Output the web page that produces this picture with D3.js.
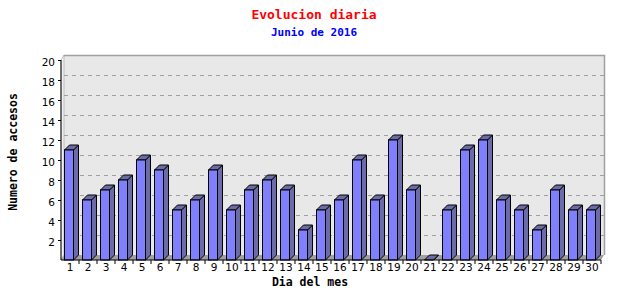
<!DOCTYPE html>
<html lang="es">
<head>
<meta charset="UTF-8">
<title>Evolucion diaria</title>
<script src="https://d3js.org/d3.v7.min.js"></script>
<style>
    body { margin: 0; padding: 0; background: #fff; }
    svg { display: block; }
    .title { font-family: 'DejaVu Sans Mono', monospace; font-weight: bold; }
    .axis text { font-family: 'DejaVu Sans', sans-serif; font-size: 10.5px; fill: #000; }
    .axis path { display: none; }
    .axis line { stroke: #000; }
</style>
</head>
<body>
<svg id="chart" width="640" height="300"></svg>
<script>
    // data
    const days = d3.range(1, 31).map(String);
    const accesses = [11, 6, 7, 8, 10, 9, 5, 6, 9, 5, 7, 8, 7, 3, 5, 6, 10, 6, 12, 7, 0, 5, 11, 12, 6, 5, 3, 7, 5, 5];
    const yTicks = [2, 4, 6, 8, 10, 12, 14, 16, 18, 20];

    const plotLeft = 61, plotRight = 601, plotBottom = 260, plotTop = 60;
    const dx = 3, dy = 5;      // depth of the back wall
    const bdx = 5, bdy = 5;    // depth of a bar

    const svg = d3.select("#chart");

    const x = d3.scaleBand().domain(days).range([plotLeft, plotRight]).padding(0);
    const y = d3.scaleLinear().domain([0, 20]).range([plotBottom, plotTop]);

    // back wall
    svg.append("rect")
        .attr("x", plotLeft + dx).attr("y", plotTop - dy)
        .attr("width", plotRight - plotLeft).attr("height", plotBottom - plotTop)
        .attr("fill", "#e8e8e8");

    // left side wall
    svg.append("polygon")
        .attr("points", [[plotLeft, plotBottom], [plotLeft, plotTop], [plotLeft + dx, plotTop - dy], [plotLeft + dx, plotBottom - dy]].join(" "))
        .attr("fill", "#f0f0f0")
        .attr("stroke", "#a0a0a0")
        .attr("stroke-width", 0.6);

    // grid on the wall
    svg.append("g").selectAll("line")
        .data(yTicks.filter(d => d < 20))
        .join("line")
        .attr("x1", plotLeft + dx).attr("x2", plotRight + dx)
        .attr("y1", d => Math.round(y(d) - dy) + 0.5)
        .attr("y2", d => Math.round(y(d) - dy) + 0.5)
        .attr("stroke", "#a0a0a0")
        .attr("stroke-dasharray", "4,4");

    // wall border (top and right)
    svg.append("path")
        .attr("d", `M${plotLeft + dx},${plotTop - dy + 0.5} H${plotRight + dx + 0.5} V${plotBottom - dy}`)
        .attr("fill", "none")
        .attr("stroke", "#a0a0a0")
        .attr("stroke-width", 1.5);

    // floor
    svg.append("polygon")
        .attr("points", [[plotLeft, plotBottom], [plotRight, plotBottom], [plotRight + dx, plotBottom - dy], [plotLeft + dx, plotBottom - dy]].join(" "))
        .attr("fill", "#a0a0a0");

    // bars
    const bars = svg.append("g").selectAll("g")
        .data(days.map((d, i) => ({ day: d, value: accesses[i] })))
        .join("g");

    const fx = d => x(d.day) + 3.5;
    const bw = 9;

    // side
    bars.append("polygon")
        .attr("points", d => {
            const x1 = fx(d) + bw, yt = y(d.value);
            return [[x1, plotBottom], [x1, yt], [x1 + bdx, yt - bdy], [x1 + bdx, plotBottom - bdy]].join(" ");
        })
        .attr("fill", "#6b6ba8")
        .attr("stroke", "#000")
        .attr("stroke-width", 1);

    // top
    bars.append("polygon")
        .attr("points", d => {
            const x0 = fx(d), yt = y(d.value);
            return [[x0, yt], [x0 + bdx, yt - bdy], [x0 + bw + bdx, yt - bdy], [x0 + bw, yt]].join(" ");
        })
        .attr("fill", "#6b6ba8")
        .attr("stroke", "#000")
        .attr("stroke-width", 1);

    // front
    bars.filter(d => d.value > 0).append("rect")
        .attr("x", fx)
        .attr("y", d => y(d.value))
        .attr("width", bw)
        .attr("height", d => plotBottom - y(d.value))
        .attr("fill", "#8080ff")
        .attr("stroke", "#000")
        .attr("stroke-width", 1);

    // axes
    svg.append("g")
        .attr("class", "axis")
        .attr("transform", `translate(${plotLeft},0)`)
        .call(d3.axisLeft(y).tickValues(yTicks).tickSize(3).tickPadding(3))
        .selectAll("text").attr("dy", "0.55em");

    const xAxis = svg.append("g")
        .attr("class", "axis")
        .attr("transform", `translate(0,${plotBottom})`)
        .call(d3.axisBottom(x).tickSize(0).tickPadding(3));
    xAxis.selectAll("text").attr("dy", "0.75em");

    // x ticks at band edges
    xAxis.append("g").selectAll("line")
        .data(days)
        .join("line")
        .attr("x1", d => x(d) + x.bandwidth())
        .attr("x2", d => x(d) + x.bandwidth())
        .attr("y1", 0).attr("y2", 4);

    svg.append("line")
        .attr("x1", plotLeft).attr("x2", plotRight)
        .attr("y1", plotBottom).attr("y2", plotBottom)
        .attr("stroke", "#000");
    svg.append("line")
        .attr("x1", plotLeft).attr("x2", plotLeft)
        .attr("y1", plotTop).attr("y2", plotBottom)
        .attr("stroke", "#000");

    // titles
    svg.append("text").attr("class", "title")
        .attr("x", 314).attr("y", 19)
        .attr("text-anchor", "middle")
        .attr("font-size", 13).attr("fill", "#ff0000")
        .text("Evolucion diaria");
    svg.append("text").attr("class", "title")
        .attr("x", 314).attr("y", 36)
        .attr("text-anchor", "middle")
        .attr("font-size", 11).attr("fill", "#0000ff")
        .text("Junio de 2016");
    svg.append("text").attr("class", "title")
        .attr("transform", "translate(17,152) rotate(-90)")
        .attr("text-anchor", "middle")
        .attr("font-size", 11.5).attr("fill", "#000")
        .text("Numero de accesos");
    svg.append("text").attr("class", "title")
        .attr("x", 310).attr("y", 286)
        .attr("text-anchor", "middle")
        .attr("font-size", 11.5).attr("fill", "#000")
        .text("Dia del mes");
</script>
</body>
</html>
